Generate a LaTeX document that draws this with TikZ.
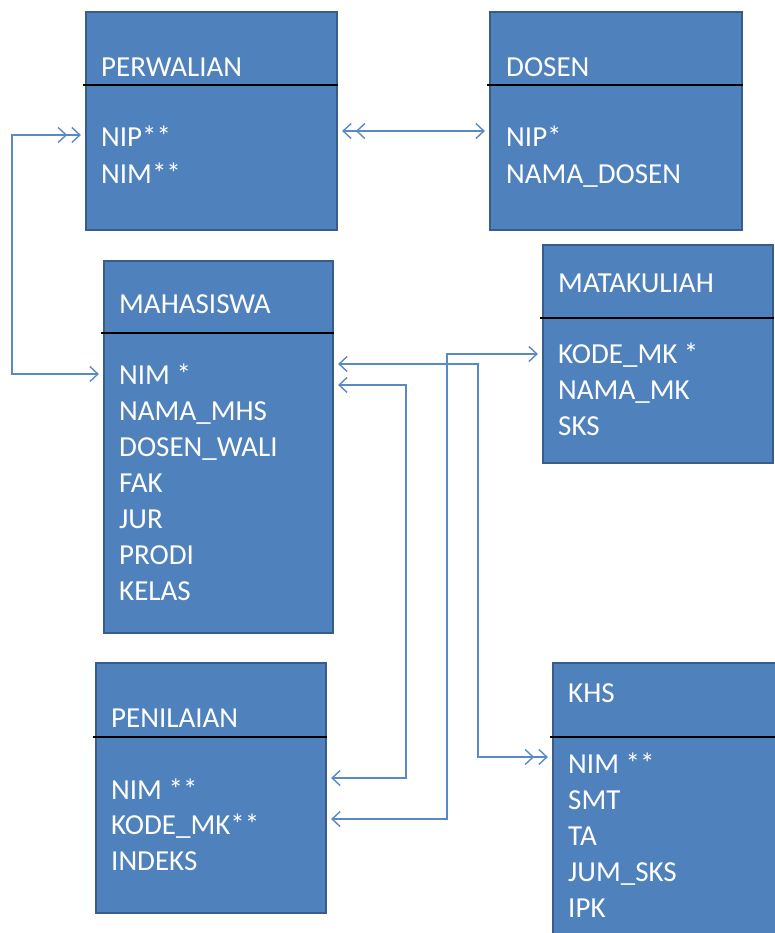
\documentclass[tikz,border=0pt]{standalone}
\usepackage{fontspec}
\setmainfont{Carlito}
\usetikzlibrary{arrows.meta}
\definecolor{boxfill}{HTML}{4F81BD}
\definecolor{boxedge}{HTML}{385D8A}
\definecolor{linkcol}{HTML}{5A8AC6}
\tikzset{
  tbl/.style={rectangle, fill=boxfill, draw=boxedge, line width=2.2pt, inner sep=0pt},
  lbl/.style={anchor=base west, inner sep=0pt, text=white, font=\fontsize{29}{35}\selectfont},
  divline/.style={draw=black, line width=1.3pt},
  conn/.style={draw=linkcol, line width=1.4pt},
  barb/.tip={Straight Barb[length=8pt,width=15pt,line width=1.4pt,sep=4pt]},
}
\begin{document}
\begin{tikzpicture}[x=1pt,y=-1pt]
\useasboundingbox (0,0) rectangle (775,933);
\fill[white] (0,0) rectangle (775,933);

% tables
\node[tbl, minimum width=251pt, minimum height=218pt] (perw) at (211.5,121) {};
\node[tbl, minimum width=252pt, minimum height=218pt] (dosen) at (616,121) {};
\node[tbl, minimum width=229pt, minimum height=372pt] (mhs) at (218.5,447) {};
\node[tbl, minimum width=230pt, minimum height=218pt] (mk) at (658,354) {};
\node[tbl, minimum width=230pt, minimum height=250pt] (pen) at (211,788) {};
\node[tbl, minimum width=224pt, minimum height=277pt] (khs) at (665,801.5) {};

% dividers
\draw[divline] ([xshift=-2pt]perw.west |- 0,85) -- (perw.east |- 0,85);
\draw[divline] ([xshift=-2pt]dosen.west |- 0,85) -- (dosen.east |- 0,85);
\draw[divline] ([xshift=-2pt]mhs.west |- 0,333) -- (mhs.east |- 0,333);
\draw[divline] ([xshift=-2pt]mk.west |- 0,318) -- (mk.east |- 0,318);
\draw[divline] ([xshift=-2pt]pen.west |- 0,737) -- (pen.east |- 0,737);
\draw[divline] ([xshift=-2pt]khs.west |- 0,737) -- (khs.east |- 0,737);

% texts
\node[lbl] (perwT) at (101,77) {PERWALIAN};
\node[lbl] (perw1) at (101,147) {NIP**};
\node[lbl] (perw2) at (101,184) {NIM**};

\node[lbl] (dosenT) at (506,77) {DOSEN};
\node[lbl] (dosen1) at (506,147) {NIP*};
\node[lbl] (dosen2) at (506,184) {NAMA\_DOSEN};

\node[lbl] (mhsT) at (119,313) {MAHASISWA};
\node[lbl] (mhs1) at (119,384) {NIM *};
\node[lbl] (mhs2) at (119,420) {NAMA\_MHS};
\node[lbl] (mhs3) at (119,456) {DOSEN\_WALI};
\node[lbl] (mhs4) at (119,492) {FAK};
\node[lbl] (mhs5) at (119,528) {JUR};
\node[lbl] (mhs6) at (119,564) {PRODI};
\node[lbl] (mhs7) at (119,600) {KELAS};

\node[lbl] (mkT) at (558,292) {MATAKULIAH};
\node[lbl] (mk1) at (558,363) {KODE\_MK *};
\node[lbl] (mk2) at (558,399) {NAMA\_MK};
\node[lbl] (mk3) at (558,435) {SKS};

\node[lbl] (penT) at (111,727) {PENILAIAN};
\node[lbl] (pen1) at (111,799) {NIM **};
\node[lbl] (pen2) at (111,834) {KODE\_MK**};
\node[lbl] (pen3) at (111,870) {INDEKS};

\node[lbl] (khsT) at (568,702) {KHS};
\node[lbl] (khs1) at (568,773) {NIM **};
\node[lbl] (khs2) at (568,809) {SMT};
\node[lbl] (khs3) at (568,845) {TA};
\node[lbl] (khs4) at (568,881) {JUM\_SKS};
\node[lbl] (khs5) at (568,917) {IPK};

% bend points
\coordinate (b1) at (12,135);
\coordinate (b3) at (478,364);
\coordinate (b4) at (406,385);
\coordinate (b5) at (447,819);

% connectors
\draw[conn, {barb[]barb[]}-{barb[]}] (perw.west |- b1) -- (b1) |- (mhs.west |- 0,374);
\draw[conn, {barb[]barb[]}-{barb[]}] (perw.east |- 0,131) -- (dosen.west |- 0,131);
\draw[conn, {barb[]}-{barb[]barb[]}] (mhs.east |- b3) -- (b3) |- (khs.west |- 0,757);
\draw[conn, {barb[]}-{barb[]}] (mhs.east |- b4) -- (b4) |- (pen.east |- 0,778);
\draw[conn, {barb[]}-{barb[]}] (pen.east |- b5) -- (b5) |- (mk.west |- 0,354);
\end{tikzpicture}
\end{document}
